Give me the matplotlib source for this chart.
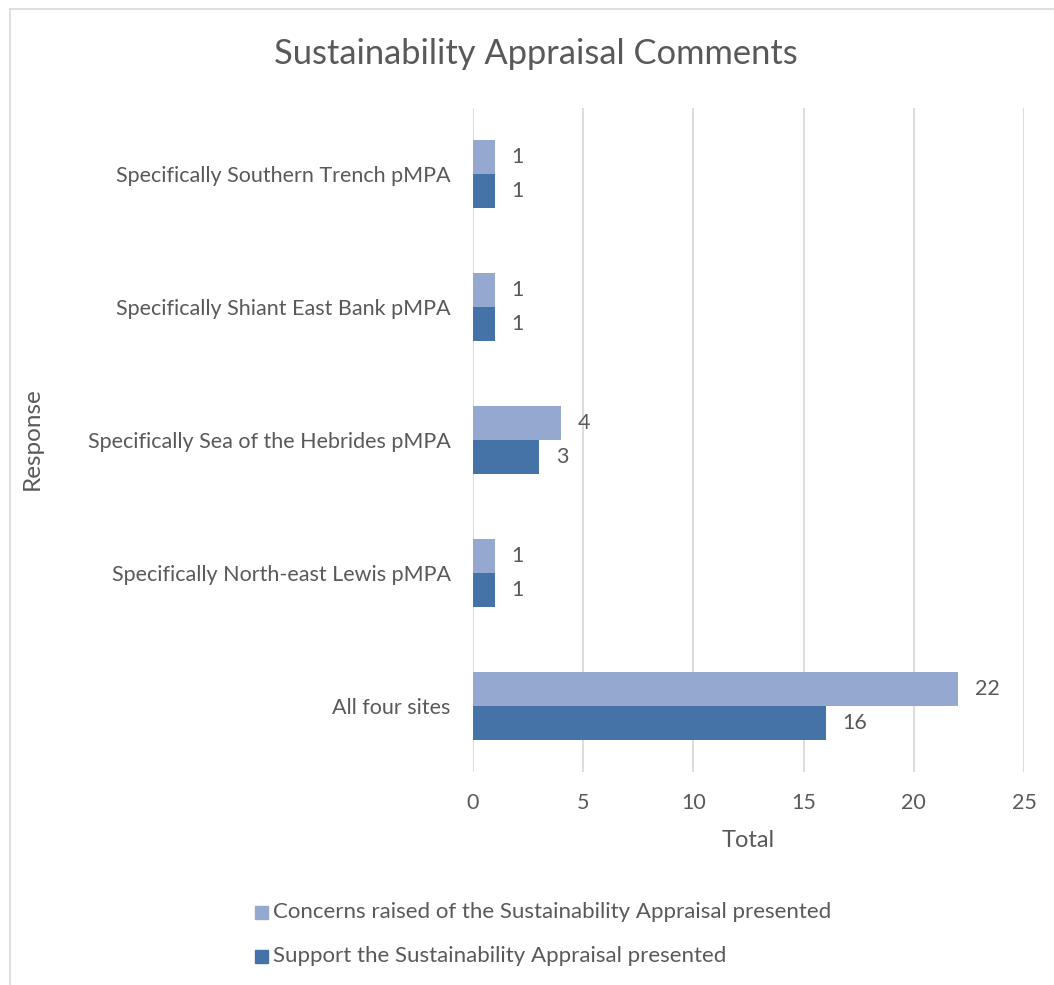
import numpy as np
import matplotlib
matplotlib.use("Agg")
import matplotlib.pyplot as plt
from matplotlib.patches import Rectangle
from matplotlib.lines import Line2D

plt.rcParams['font.family'] = ['Lato', 'DejaVu Sans']

# bottom-to-top order, as the bars are stacked on the y axis
categories = ["All four sites",
              "Specifically North-east Lewis pMPA",
              "Specifically Sea of the Hebrides pMPA",
              "Specifically Shiant East Bank pMPA",
              "Specifically Southern Trench pMPA"]
concerns = [22, 1, 4, 1, 1]
support = [16, 1, 3, 1, 1]
series_names = ["Concerns raised of the Sustainability Appraisal presented",
                "Support the Sustainability Appraisal presented"]
xticks = [0, 5, 10, 15, 20, 25]

TXT = "#595959"
LIGHT = "#95a9d0"
DARK = "#4673a7"
GRID = "#d9d9d9"

fig = plt.figure(figsize=(10.54, 9.85), dpi=100)
ax = fig.add_axes([0.4488, 0.2162, 0.5227, 0.6742])

y = np.arange(len(categories))
h = 0.256
ax.barh(y + h / 2, concerns, height=h, color=LIGHT, zorder=3)
ax.barh(y - h / 2, support, height=h, color=DARK, zorder=3)

for yi, c, s in zip(y, concerns, support):
    ax.annotate(str(c), (c, yi + h / 2), xytext=(12, 0), textcoords="offset points",
                va="center", ha="left", fontsize=15.5, color=TXT)
    ax.annotate(str(s), (s, yi - h / 2), xytext=(12, 0), textcoords="offset points",
                va="center", ha="left", fontsize=15.5, color=TXT)

ax.set_xlim(0, 25)
ax.set_ylim(-0.5, len(categories) - 0.5)
ax.set_xticks(xticks)
ax.set_yticks(y)
ax.set_yticklabels(categories)
ax.tick_params(length=0, labelsize=15.5, labelcolor=TXT)
ax.tick_params(axis="x", pad=15)
ax.tick_params(axis="y", pad=16)
ax.grid(axis="x", color=GRID, linewidth=1.3, zorder=0)
for sp in ax.spines.values():
    sp.set_visible(False)

ax.set_xlabel("Total", fontsize=17, color=TXT, labelpad=12)
fig.text(0.031, 0.555, "Response", rotation=90, fontsize=17.5, color=TXT,
         ha="center", va="center")
fig.text(0.508, 0.945, "Sustainability Appraisal Comments", fontsize=24.8,
         color=TXT, ha="center", va="center")

# chart area border
fig.add_artist(Line2D([0.0095, 0.0095], [0.0, 0.991], transform=fig.transFigure,
                      color=GRID, linewidth=1.2))
fig.add_artist(Line2D([0.0095, 1.0], [0.991, 0.991], transform=fig.transFigure,
                      color=GRID, linewidth=1.2))

# legend, drawn as squares with labels
for i, (name, col) in enumerate(zip(series_names, [LIGHT, DARK])):
    ly = 1 - (912 + 44 * i) / 985
    fig.add_artist(Rectangle((0.2420, ly - 0.0075), 0.0125, 0.0134,
                             transform=fig.transFigure, color=col))
    fig.text(0.2590, ly, name, fontsize=16, color=TXT, ha="left", va="center")

fig.savefig("out.png", dpi=100)
